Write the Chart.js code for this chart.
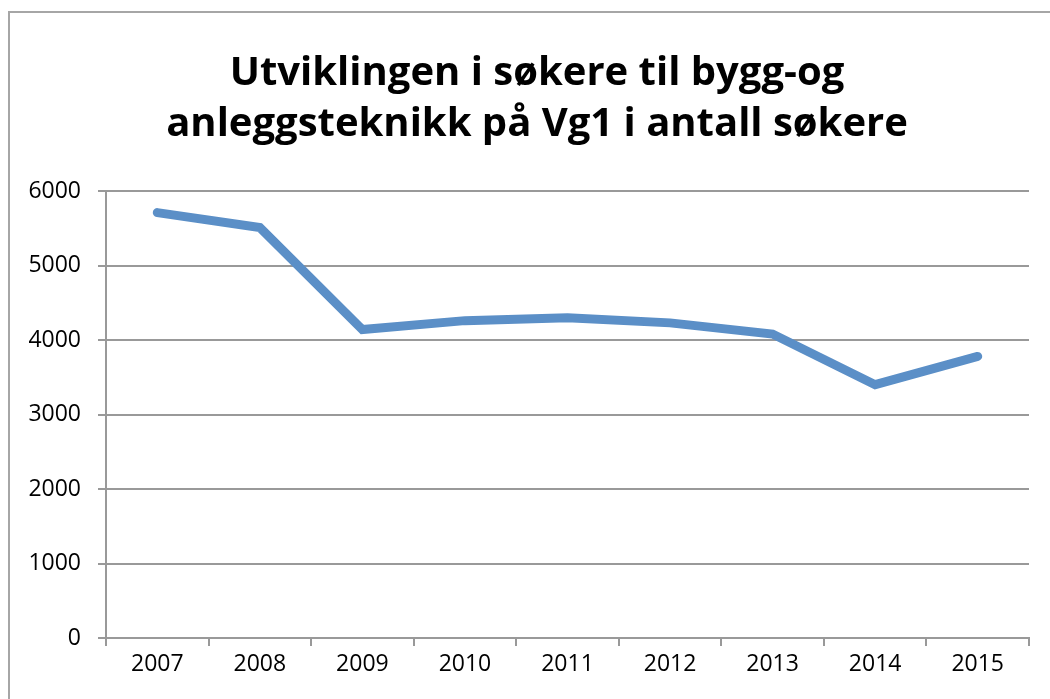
<!DOCTYPE html>
<html>
<head>
<meta charset="utf-8">
<script src="https://cdn.jsdelivr.net/npm/chart.js@4"></script>
<style>
    html, body { margin: 0; padding: 0; background: #fff; overflow: hidden; width: 1050px; height: 699px; }
    #frame { position: absolute; left: 8px; top: 11px; width: 1200px; height: 900px; border: 2px solid #a6a6a6; }
    #wrap { position: absolute; left: 0; top: 0; width: 1074px; height: 699px; }
</style>
</head>
<body>
<div id="frame"></div>
<div id="wrap"><canvas id="chart"></canvas></div>
<script>
const years = ['2007', '2008', '2009', '2010', '2011', '2012', '2013', '2014', '2015']
const applicants = [5710, 5510, 4140, 4260, 4300, 4230, 4080, 3400, 3780]
const yTicks = [0, 1000, 2000, 3000, 4000, 5000, 6000]
const titleLines = ['Utviklingen i søkere til bygg-og', 'anleggsteknikk på Vg1 i antall søkere']

const ctx = document.getElementById('chart').getContext('2d')

// the frame runs past the right edge of the picture, so the canvas is wider than
// the window and an empty right axis keeps the plot inside while the title stays centred
const chart = new Chart(ctx, {
    type: 'line',
    data: {
        labels: years,
        datasets: [{
            label: 'Søkere',
            data: applicants,
            borderColor: '#5b8fc7',
            borderWidth: 9,
            borderCapStyle: 'round',
            borderJoinStyle: 'miter',
            pointRadius: 0,
            tension: 0,
            fill: false
        }]
    },
    options: {
        responsive: true,
        maintainAspectRatio: false,
        animation: false,
        layout: { padding: 0 },
        plugins: {
            legend: { display: false },
            tooltip: { enabled: false },
            title: {
                display: true,
                text: titleLines,
                color: '#000',
                font: { family: 'Open Sans', size: 40, weight: 'bold', lineHeight: 1.275 },
                padding: { top: 48, bottom: 41 }
            }
        },
        scales: {
            x: {
                type: 'category',
                offset: true,
                grid: {
                    offset: true,
                    drawOnChartArea: false,
                    drawTicks: true,
                    tickLength: 8,
                    color: '#999',
                    lineWidth: 2
                },
                border: { display: true, color: '#999', width: 2 },
                ticks: {
                    color: '#000',
                    padding: 5,
                    font: { family: 'Open Sans', size: 23 }
                },
                afterFit: (scale) => { scale.height = 61 }
            },
            y: {
                min: 0,
                max: 6000,
                afterBuildTicks: (scale) => { scale.ticks = yTicks.map(v => ({ value: v })) },
                grid: {
                    color: '#999',
                    lineWidth: 2,
                    tickLength: 8
                },
                border: { display: true, color: '#999', width: 2 },
                ticks: {
                    color: '#000',
                    padding: 17,
                    font: { family: 'Open Sans', size: 23 },
                    callback: (value) => String(value)
                },
                afterFit: (scale) => { scale.width = 106 }
            },
            spacer: {
                position: 'right',
                min: 0,
                max: 1,
                grid: { display: false },
                border: { display: false },
                ticks: { display: false },
                afterFit: (scale) => { scale.width = 45 }
            }
        }
    }
})
</script>
</body>
</html>
